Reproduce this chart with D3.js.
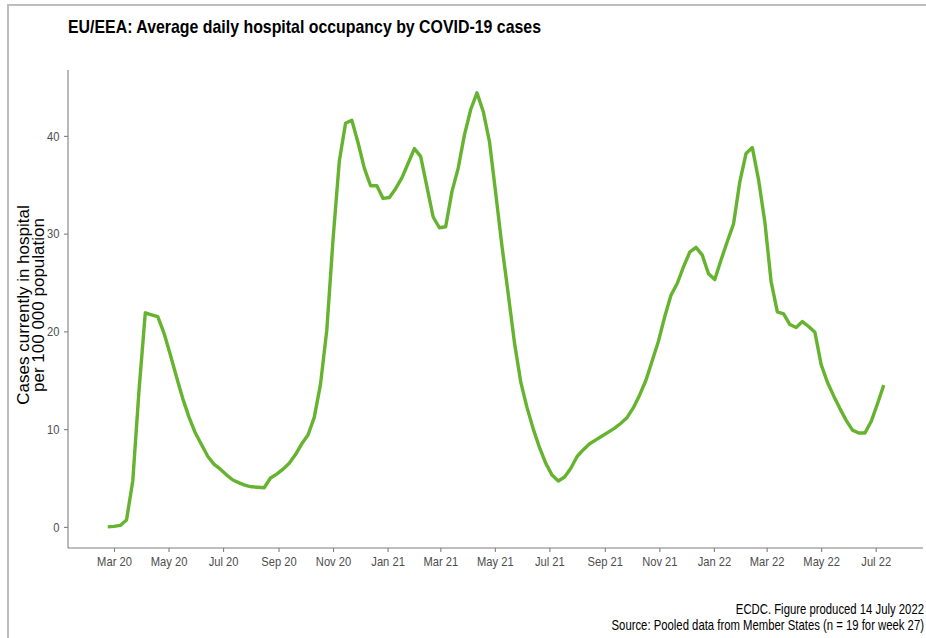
<!DOCTYPE html>
<html>
<head>
<meta charset="utf-8">
<script src="https://cdn.jsdelivr.net/npm/d3@7"></script>
<style>
  html, body { margin: 0; padding: 0; background: #fff; }
  svg { display: block; }
</style>
</head>
<body>
<svg id="chart" width="926" height="638"></svg>
<script>
// ---- DATA ----
const title = "EU/EEA: Average daily hospital occupancy by COVID-19 cases";
const yTitleLines = ["Cases currently in hospital", "per 100 000 population"];
const captionLines = ["ECDC. Figure produced 14 July 2022", "Source: Pooled data from Member States (n = 19 for week 27)"];

// weekly series, first week ending 2020-02-23, last week ending 2022-07-10 (week 27)
const firstWeekEnding = "2020-02-23";
const occupancy = [
  0.0, 0.05, 0.15, 0.7, 4.7, 14.0, 21.9, 21.7, 21.5, 19.8,
  17.6, 15.3, 13.1, 11.2, 9.6, 8.4, 7.2, 6.4, 5.9, 5.3,
  4.8, 4.5, 4.25, 4.1, 4.05, 4.0, 5.0, 5.4, 5.9, 6.5,
  7.4, 8.5, 9.4, 11.2, 14.6, 20.1, 29.4, 37.4, 41.3, 41.6,
  39.3, 36.7, 34.9, 34.9, 33.6, 33.7, 34.6, 35.7, 37.2, 38.7,
  37.9, 34.8, 31.7, 30.6, 30.7, 34.3, 36.7, 40.1, 42.7, 44.4,
  42.5, 39.4, 34.1, 28.7, 23.8, 18.8, 14.8, 12.2, 10.0, 8.1,
  6.5, 5.3, 4.7, 5.1, 6.0, 7.2, 7.9, 8.5, 8.9, 9.3,
  9.7, 10.1, 10.6, 11.2, 12.2, 13.5, 15.0, 17.0, 19.0, 21.5,
  23.7, 24.9, 26.6, 28.1, 28.6, 27.8, 25.9, 25.3, 27.3, 29.2,
  31.0, 35.3, 38.2, 38.8, 35.5, 31.2, 25.1, 22.0, 21.8, 20.7,
  20.4, 21.0, 20.5, 19.9, 16.6, 14.8, 13.4, 12.1, 10.9, 9.9,
  9.6, 9.6, 10.8, 12.6, 14.5
];
const yTicks = [0, 10, 20, 30, 40];
const xTickDates = ["2020-03-01","2020-05-01","2020-07-01","2020-09-01","2020-11-01",
  "2021-01-01","2021-03-01","2021-05-01","2021-07-01","2021-09-01","2021-11-01",
  "2022-01-01","2022-03-01","2022-05-01","2022-07-01"];

// ---- LAYOUT ----
const panel = { left: 68, right: 923, top: 70, bottom: 548 };
const lineColor = "#65b32e";
const axisColor = "#7f7f7f";
const tickTextColor = "#4d4d4d";
const font = "'Liberation Sans', Arial, Helvetica, sans-serif";
const narrowScale = 0.86;

const parse = d3.utcParse("%Y-%m-%d");
const start = parse(firstWeekEnding);
const data = occupancy.map((v, i) => ({ date: d3.utcDay.offset(start, 7 * i), value: v }));

const svg = d3.select("#chart");

// frame (partially visible in reference)
svg.append("path")
  .attr("d", `M8,640 L8,5 L930,5`)
  .attr("fill", "none").attr("stroke", "#bdbdbd").attr("stroke-width", 2);

// scales
const x = d3.scaleUtc()
  .domain([parse("2020-03-01"), parse("2022-07-01")])
  .range([114, 875.7]);
const y = d3.scaleLinear()
  .domain([-2.16, 46.74])
  .range([panel.bottom, panel.top]);

// axes lines
svg.append("line")
  .attr("x1", panel.left).attr("x2", panel.left)
  .attr("y1", panel.top).attr("y2", panel.bottom)
  .attr("stroke", axisColor).attr("stroke-width", 1.1);
svg.append("line")
  .attr("x1", panel.left).attr("x2", panel.right)
  .attr("y1", panel.bottom).attr("y2", panel.bottom)
  .attr("stroke", axisColor).attr("stroke-width", 1.1);

// y axis
const yAxis = svg.append("g")
  .attr("transform", `translate(${panel.left},0)`)
  .call(d3.axisLeft(y).tickValues(yTicks).tickSize(4).tickPadding(3).tickFormat(d3.format("d")));
yAxis.select(".domain").remove();
yAxis.selectAll(".tick line").attr("stroke", axisColor).attr("stroke-width", 1.1);
yAxis.selectAll(".tick text")
  .attr("x", -10)
  .attr("transform", `scale(${narrowScale},1)`)
  .attr("fill", tickTextColor).style("font-family", font).style("font-size", "13px");

// x axis
const xAxis = svg.append("g")
  .attr("transform", `translate(0,${panel.bottom})`)
  .call(d3.axisBottom(x).tickValues(xTickDates.map(parse)).tickSize(4).tickPadding(5)
    .tickFormat(d3.utcFormat("%b %y")));
xAxis.select(".domain").remove();
xAxis.selectAll(".tick line").attr("stroke", axisColor).attr("stroke-width", 1.1);
xAxis.selectAll(".tick text")
  .attr("transform", `scale(${narrowScale},1)`)
  .attr("fill", tickTextColor).style("font-family", font).style("font-size", "13px");

// line
svg.append("path")
  .datum(data)
  .attr("fill", "none")
  .attr("stroke", lineColor)
  .attr("stroke-width", 3.4)
  .attr("stroke-linejoin", "round")
  .attr("stroke-linecap", "butt")
  .attr("d", d3.line().x(d => x(d.date)).y(d => y(d.value)));

// title
svg.append("text")
  .attr("x", 68).attr("y", 33)
  .attr("textLength", 473).attr("lengthAdjust", "spacingAndGlyphs")
  .style("font-family", font).style("font-weight", "bold").style("font-size", "19px")
  .attr("fill", "#000")
  .text(title);

// y title
const yt = svg.append("text")
  .attr("transform", `translate(0,305) rotate(-90)`)
  .attr("text-anchor", "middle")
  .style("font-family", font).style("font-size", "17px").attr("fill", "#000");
yTitleLines.forEach((t, i) => {
  yt.append("tspan").attr("x", 0).attr("y", 28.5 + i * 15.5).text(t);
});

// caption (right-aligned, horizontally condensed)
captionLines.forEach((t, i) => {
  svg.append("text")
    .attr("transform", `translate(924,${614 + i * 16}) scale(0.81,1)`)
    .attr("text-anchor", "end")
    .style("font-family", font).style("font-size", "14px").attr("fill", "#000")
    .text(t);
});
</script>
</body>
</html>
